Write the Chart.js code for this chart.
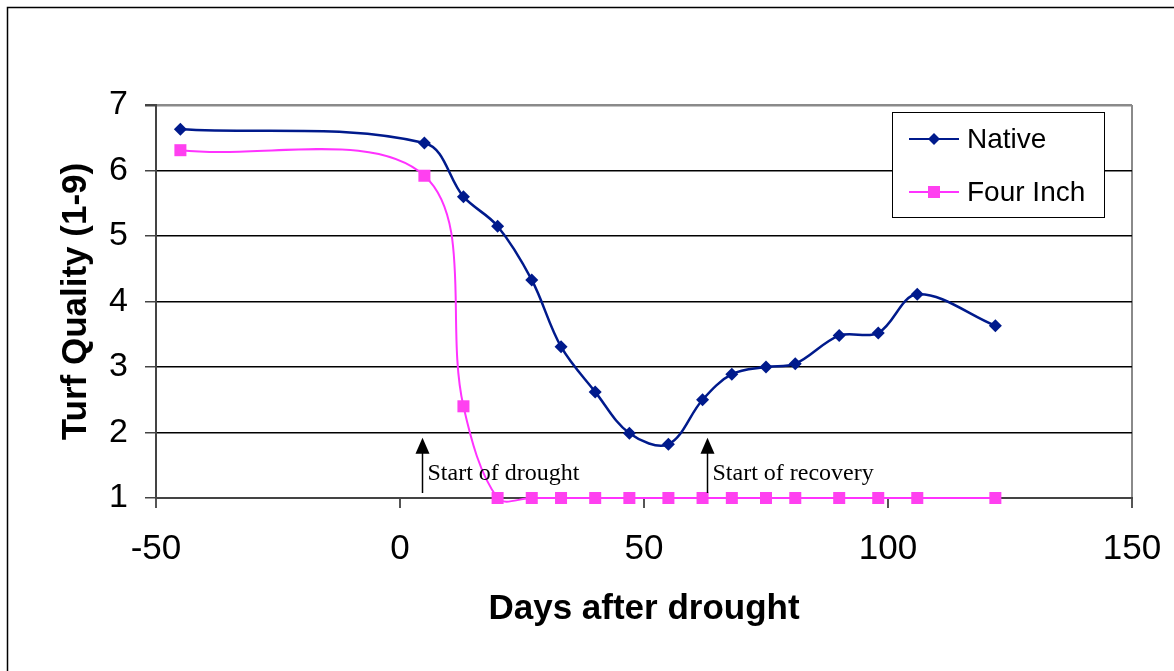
<!DOCTYPE html>
<html>
<head>
<meta charset="utf-8">
<script src="https://cdn.jsdelivr.net/npm/chart.js@4.4.1/dist/chart.umd.min.js"></script>
<style>
  html, body { margin: 0; padding: 0; background: #fff; }
  #wrap { position: relative; width: 1174px; height: 671px; }
</style>
</head>
<body>
<div id="wrap"><canvas id="myChart"></canvas></div>
<script>
// Sample data
const days = [-45, 5, 13, 20, 27, 33, 40, 47, 55, 62, 68, 75, 81, 90, 98, 106, 122];
const nativeValues = [6.63, 6.42, 5.60, 5.15, 4.33, 3.31, 2.62, 1.99, 1.82, 2.50, 2.89, 3.00, 3.05, 3.48, 3.52, 4.11, 3.63];
const fourInchValues = [6.31, 5.92, 2.40, 1, 1, 1, 1, 1, 1, 1, 1, 1, 1, 1, 1, 1, 1];
const seriesNames = ["Native", "Four Inch"];
const noteDays = [4.5, 63];
const noteTexts = ["Start of drought", "Start of recovery"];

const sans = "'Liberation Sans', Arial, sans-serif";

function toPoints(values) {
  return values.map((v, i) => ({ x: days[i], y: v }));
}

// white page with the thin frame round it
const framePlugin = {
  id: "frame",
  beforeDraw(chart) {
    const c = chart.ctx;
    c.save();
    c.fillStyle = "#fff";
    c.fillRect(0, 0, chart.width, chart.height);
    c.strokeStyle = "#000";
    c.lineWidth = 1.5;
    c.strokeRect(7.5, 7.5, chart.width + 20, chart.height + 20);
    c.restore();
  }
};

// arrows + text for drought / recovery
const notesPlugin = {
  id: "notes",
  afterDatasetsDraw(chart) {
    const c = chart.ctx;
    const xs = chart.scales.x, ys = chart.scales.y;
    c.save();
    noteDays.forEach((d, i) => {
      const px = Math.round(xs.getPixelForValue(d)) + 0.5;
      const base = ys.getPixelForValue(1) - 5;
      const tip = ys.getPixelForValue(1.92);
      c.strokeStyle = "#000";
      c.lineWidth = 1.5;
      c.beginPath();
      c.moveTo(px, base);
      c.lineTo(px, tip + 14);
      c.stroke();
      c.fillStyle = "#000";
      c.beginPath();
      c.moveTo(px, tip);
      c.lineTo(px - 7, tip + 16);
      c.lineTo(px + 7, tip + 16);
      c.closePath();
      c.fill();
      c.font = "24px 'Liberation Serif', 'Times New Roman', serif";
      c.textBaseline = "alphabetic";
      c.textAlign = "left";
      c.fillText(noteTexts[i], px + 5, ys.getPixelForValue(1.27));
    });
    c.restore();
  }
};

// boxed legend inside the plot area
const legendPlugin = {
  id: "boxLegend",
  afterDatasetsDraw(chart) {
    const c = chart.ctx;
    const left = 892, top = 112, w = 212, h = 105;
    c.save();
    c.fillStyle = "#fff";
    c.fillRect(left, top, w, h);
    c.strokeStyle = "#000";
    c.lineWidth = 1;
    c.strokeRect(left + 0.5, top + 0.5, w, h);
    chart.data.datasets.forEach((ds, i) => {
      const y = top + 27 + i * 53;
      c.strokeStyle = ds.borderColor;
      c.lineWidth = 2;
      c.beginPath();
      c.moveTo(909, y);
      c.lineTo(959, y);
      c.stroke();
      c.fillStyle = ds.pointBackgroundColor;
      c.beginPath();
      if (ds.pointStyle === "rectRot") {
        c.moveTo(934, y - 6); c.lineTo(940, y); c.lineTo(934, y + 6); c.lineTo(928, y);
      } else {
        c.rect(928, y - 6, 12, 12);
      }
      c.closePath();
      c.fill();
      c.fillStyle = "#000";
      c.font = "28px " + sans;
      c.textBaseline = "middle";
      c.textAlign = "left";
      c.fillText(ds.label, 967, y + 1);
    });
    c.restore();
  }
};

const ctx = document.getElementById("myChart");
const myChart = new Chart(ctx, {
  type: "line",
  data: {
    datasets: [
      {
        label: seriesNames[0],
        data: toPoints(nativeValues),
        borderColor: "#001a8c",
        backgroundColor: "#001a8c",
        pointBackgroundColor: "#001a8c",
        pointBorderColor: "#001a8c",
        pointStyle: "rectRot",
        pointRadius: 6.5,
        pointBorderWidth: 0,
        borderWidth: 2.5,
        tension: 0.35,
        clip: false
      },
      {
        label: seriesNames[1],
        data: toPoints(fourInchValues),
        borderColor: "#ff33ff",
        backgroundColor: "#ff33ff",
        pointBackgroundColor: "#ff40f0",
        pointBorderColor: "#ff40f0",
        pointStyle: "rect",
        pointRadius: 8.5,
        pointBorderWidth: 0,
        borderWidth: 2,
        tension: 0.35,
        clip: false
      }
    ]
  },
  options: {
    responsive: true,
    maintainAspectRatio: false,
    animation: false,
    layout: { padding: { left: 0, top: 105, right: 42, bottom: 0 } },
    elements: { line: { capBezierPoints: false } },
    plugins: {
      legend: { display: false },
      tooltip: { enabled: false }
    },
    scales: {
      x: {
        type: "linear",
        min: -50,
        max: 150,
        afterFit(scale) {
          scale.height = 173;
          scale.paddingLeft = 0;
          scale.paddingRight = 0;
        },
        ticks: {
          stepSize: 50,
          color: "#000",
          padding: 20,
          font: { family: sans, size: 35 }
        },
        grid: {
          color: (c) => (c.tick && c.tick.value === 150 ? "#8a8a8a" : "rgba(0,0,0,0)"),
          lineWidth: 2,
          tickColor: "#555",
          tickLength: 10
        },
        border: { color: "#444", width: 2 },
        title: {
          display: true,
          text: "Days after drought",
          color: "#000",
          font: { family: sans, size: 35, weight: "bold" },
          padding: { top: 0, bottom: 41 }
        }
      },
      y: {
        min: 1,
        max: 7,
        afterFit(scale) { scale.width = 156; },
        ticks: {
          stepSize: 1,
          color: "#000",
          padding: 17,
          font: { family: sans, size: 34 }
        },
        grid: {
          color: (c) => (c.tick && c.tick.value === 7 ? "#8a8a8a" : "#000"),
          lineWidth: (c) => (c.tick && c.tick.value === 7 ? 2.5 : 1.5),
          tickColor: "#444",
          tickLength: 11
        },
        border: { color: "#444", width: 2 },
        title: {
          display: true,
          text: "Turf Quality (1-9)",
          color: "#000",
          font: { family: sans, size: 35, weight: "bold" },
          padding: { top: 55, bottom: 0 }
        }
      }
    }
  },
  plugins: [framePlugin, notesPlugin, legendPlugin]
});
</script>
</body>
</html>
